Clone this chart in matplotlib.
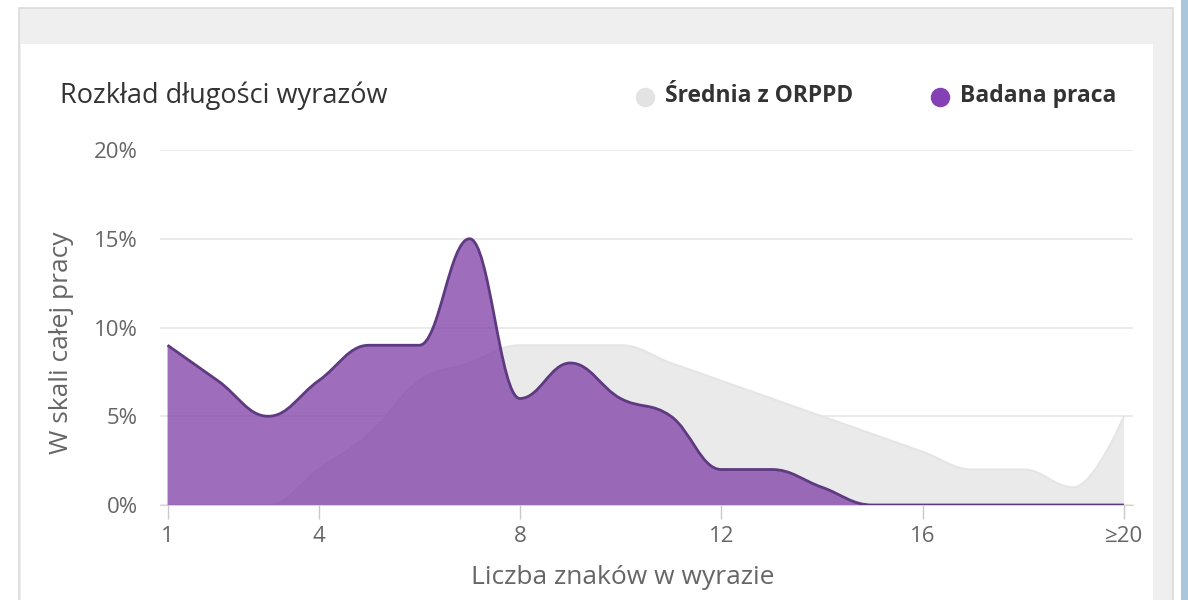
import matplotlib

matplotlib.use("Agg")
import matplotlib.pyplot as plt
from matplotlib.path import Path
from matplotlib.patches import PathPatch, Rectangle
from matplotlib.lines import Line2D

plt.rcParams["font.family"] = ["Open Sans", "DejaVu Sans"]

# word length categories (1 .. >=20) and their share in % of the text
lengths = list(range(1, 21))
avg_orppd = [0, 0, 0, 2, 4, 7, 8, 9, 9, 9, 8, 7, 6, 5, 4, 3, 2, 2, 1, 5]
this_work = [9, 7, 5, 7, 9, 9, 15, 6, 8, 6, 5, 2, 2, 1, 0, 0, 0, 0, 0, 0]
tick_pos = [1, 4, 8, 12, 16, 20]
tick_labels = ["1", "4", "8", "12", "16", "\u226520"]
y_ticks = [0, 5, 10, 15, 20]

W, H = 1188, 600


def spline_path(xs, ys, close_to=None):
    """Highcharts-style smooth spline as cubic Bezier segments."""
    sm = 1.5
    n = len(xs)
    left = [(x, y) for x, y in zip(xs, ys)]
    right = [(x, y) for x, y in zip(xs, ys)]
    for i in range(1, n - 1):
        px, py = xs[i], ys[i]
        lx, ly = xs[i - 1], ys[i - 1]
        nx, ny = xs[i + 1], ys[i + 1]
        lcx = (sm * px + lx) / (sm + 1)
        lcy = (sm * py + ly) / (sm + 1)
        rcx = (sm * px + nx) / (sm + 1)
        rcy = (sm * py + ny) / (sm + 1)
        corr = (rcy - lcy) * (rcx - px) / (rcx - lcx) + py - rcy
        lcy += corr
        rcy += corr
        if lcy > ly and lcy > py:
            lcy = max(ly, py)
            rcy = 2 * py - lcy
        elif lcy < ly and lcy < py:
            lcy = min(ly, py)
            rcy = 2 * py - lcy
        if rcy > ny and rcy > py:
            rcy = max(ny, py)
            lcy = 2 * py - rcy
        elif rcy < ny and rcy < py:
            rcy = min(ny, py)
            lcy = 2 * py - rcy
        left[i] = (lcx, lcy)
        right[i] = (rcx, rcy)
    verts = [(xs[0], ys[0])]
    codes = [Path.MOVETO]
    for i in range(1, n):
        verts += [right[i - 1], left[i], (xs[i], ys[i])]
        codes += [Path.CURVE4] * 3
    if close_to is not None:
        verts += [(xs[-1], close_to), (xs[0], close_to), (xs[0], close_to)]
        codes += [Path.LINETO, Path.LINETO, Path.CLOSEPOLY]
    return Path(verts, codes)


fig = plt.figure(figsize=(W / 100, H / 100), dpi=100)
fig.patch.set_facecolor("white")


def px_rect(x0, y0, x1, y1, **kw):
    fig.add_artist(Rectangle((x0 / W, 1 - y1 / H), (x1 - x0) / W, (y1 - y0) / H,
                             transform=fig.transFigure, **kw))


# page chrome: panel frame, header strip, right scrollbar tint
px_rect(19, 8, 1173, 610, facecolor="#efefef", edgecolor="#dadada", lw=1.2, zorder=0)
px_rect(21, 44, 1153, 610, facecolor="white", edgecolor="none", zorder=0)
px_rect(1181, 0, 1190, 600, facecolor="#a9c6dc", edgecolor="none", zorder=0)

ax = fig.add_axes([160 / W, 1 - 505 / H, (1133 - 160) / W, (505 - 150) / H])
ax.set_facecolor("none")
ax.set_xlim(0.85, 20.18)
ax.set_ylim(0, 20)

# grey average series
ax.add_patch(PathPatch(spline_path(lengths, avg_orppd, 0), facecolor="#eaeaea",
                       edgecolor="none", zorder=2))
ax.add_patch(PathPatch(spline_path(lengths, avg_orppd), fill=False,
                       edgecolor="#e5e5e5", lw=1.5, zorder=2))
# purple series for the analysed text
ax.add_patch(PathPatch(spline_path(lengths, this_work, 0), facecolor="#8040a8",
                       alpha=0.76, edgecolor="none", zorder=3))
ax.add_patch(PathPatch(spline_path(lengths, this_work), fill=False,
                       edgecolor="#5e3a80", lw=2, zorder=4))

ax.set_yticks(y_ticks)
ax.set_yticklabels([f"{v}%" for v in y_ticks])
ax.set_xticks(tick_pos)
ax.set_xticklabels(tick_labels)
ax.grid(axis="y", color="#e6e6e6", lw=1.2, zorder=1)
ax.set_axisbelow(True)
for s in ["top", "right", "left"]:
    ax.spines[s].set_visible(False)
ax.spines["bottom"].set_color("#d8d0e0")
ax.tick_params(axis="y", length=0, pad=16, labelsize=16, labelcolor="#666666")
ax.tick_params(axis="x", length=10, width=1, color="#c8c8c8", pad=5,
               labelsize=16, labelcolor="#666666")
ax.set_xlabel("Liczba znaków w wyrazie", fontsize=19, color="#666666")
ax.set_ylabel("W skali całej pracy", fontsize=19, color="#666666")
# place axis titles where the reference has them (pixel positions)
to_ax = ax.transAxes.inverted()
lx, ly = to_ax.transform(fig.transFigure.transform((623 / W, 1 - 578 / H)))
ax.xaxis.set_label_coords(lx, ly)
ax.xaxis.label.set_va("center")
lx, ly = to_ax.transform(fig.transFigure.transform((62 / W, 1 - 343 / H)))
ax.yaxis.set_label_coords(lx, ly)
ax.yaxis.label.set_va("center")

# title and legend
fig.text(60 / W, 1 - 96 / H, "Rozkład długości wyrazów", fontsize=19.5, color="#333333",
         va="center", ha="left")
legend_items = [("Średnia z ORPPD", "#e3e3e3", 645), ("Badana praca", "#8440b4", 940)]
for label, col, x in legend_items:
    fig.add_artist(Line2D([x / W], [1 - 97 / H], marker="o", markersize=13, color=col,
                          transform=fig.transFigure))
    fig.text((x + 20) / W, 1 - 96 / H, label, fontsize=16.5, fontweight="bold",
             color="#333333", va="center", ha="left")

fig.savefig("out.png", dpi=100)
